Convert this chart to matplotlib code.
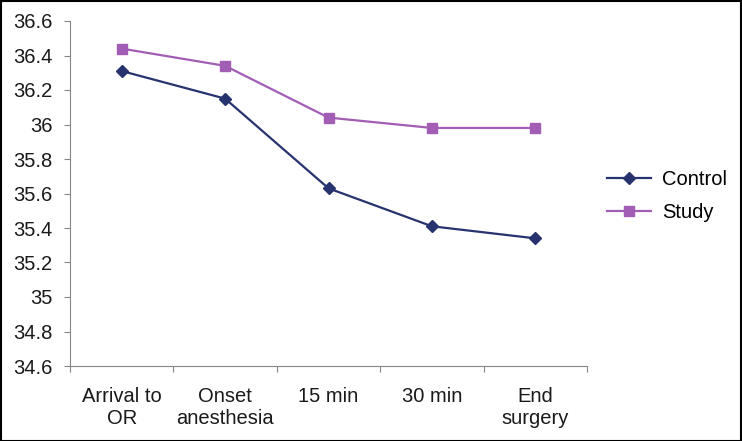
import matplotlib
matplotlib.use("Agg")
import matplotlib.pyplot as plt
from matplotlib.patches import Rectangle

categories = ["Arrival to\nOR", "Onset\nanesthesia", "15 min", "30 min", "End\nsurgery"]
control = [36.31, 36.15, 35.63, 35.41, 35.34]
study = [36.44, 36.34, 36.04, 35.98, 35.98]
yticks = [34.6, 34.8, 35, 35.2, 35.4, 35.6, 35.8, 36, 36.2, 36.4, 36.6]
ytick_labels = ["34.6", "34.8", "35", "35.2", "35.4", "35.6", "35.8", "36", "36.2", "36.4", "36.6"]

plt.rcParams["font.family"] = ["Liberation Sans", "DejaVu Sans"]
fs = 14.5

fig = plt.figure(figsize=(7.42, 4.41), dpi=100)
ax = fig.add_axes([70 / 742, 1 - 366 / 441, 517 / 742, 345 / 441])

x = list(range(len(categories)))
ax.plot(x, control, color="#27336E", marker="D", markersize=6.5, linewidth=1.6, label="Control")
ax.plot(x, study, color="#A25DB5", marker="s", markersize=7.5, linewidth=1.6, label="Study")

ax.set_xlim(-0.5, len(categories) - 0.5)
ax.set_ylim(34.6, 36.6)
ax.set_yticks(yticks)
ax.set_yticklabels(ytick_labels)

# tick marks at category boundaries, labels at centers
ax.set_xticks([i - 0.5 for i in range(len(categories) + 1)])
ax.set_xticklabels([])
ax.set_xticks(x, minor=True)
ax.set_xticklabels(categories, minor=True)
ax.tick_params(axis="x", which="major", length=4, color="#868686", direction="out")
ax.tick_params(axis="x", which="minor", length=0, pad=15, labelsize=fs, colors="#1a1a1a")
ax.tick_params(axis="y", length=4.5, pad=8, color="#868686", labelsize=fs, labelcolor="#1a1a1a")

for side in ["top", "right"]:
    ax.spines[side].set_visible(False)
for side in ["left", "bottom"]:
    ax.spines[side].set_color("#868686")

fig.legend(loc="center left", bbox_to_anchor=(607 / 742, 1 - 196 / 441), frameon=False, fontsize=fs,
           handlelength=2.2, handletextpad=0.55, labelspacing=0.72, borderpad=0, borderaxespad=0)

fig.patches.append(Rectangle((0.001, 0.001), 0.997, 0.997, transform=fig.transFigure,
                             fill=False, edgecolor="black", linewidth=1.5))

fig.savefig("out.png", dpi=100)
